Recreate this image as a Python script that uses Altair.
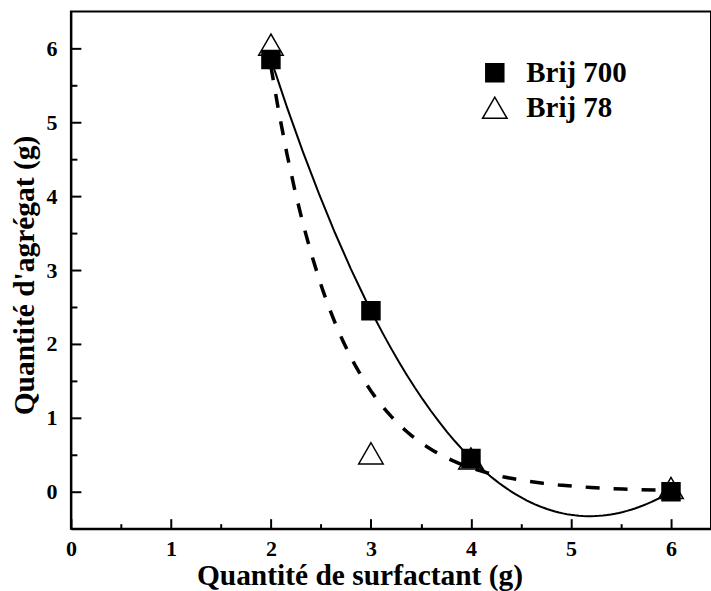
import altair as alt
import pandas as pd

# ---- data ----
surfactant = [2, 3, 4, 6]
brij700 = [5.85, 2.45, 0.45, 0.0]
brij78 = [6.05, 0.52, 0.45, 0.05]
series_names = ["Brij 700", "Brij 78"]
x_major = [0, 1, 2, 3, 4, 5, 6]
x_minor = [0.5, 1.5, 2.5, 3.5, 4.5, 5.5]
y_major = [0, 1, 2, 3, 4, 5, 6]
y_minor = [0.5, 1.5, 2.5, 3.5, 4.5, 5.5]

rows = []
for i, xv in enumerate(surfactant):
    rows.append({"x": xv, "y": brij700[i], "series": "Brij 700", "z": 2})
    rows.append({"x": xv, "y": brij78[i], "series": "Brij 78", "z": 1})
df = pd.DataFrame(rows)

FONT = "Liberation Serif"
xscale = alt.Scale(domain=[0, 6.4], nice=False, zero=False)
yscale = alt.Scale(domain=[-0.5, 6.5], nice=False, zero=False)


def leg():
    return alt.Legend(title=None, symbolStrokeWidth=1.5, symbolOpacity=1)


points = alt.Chart(df).mark_point(
    strokeWidth=1.5, opacity=1, fillOpacity=1
).encode(
    x=alt.X("x:Q", scale=xscale, axis=alt.Axis(
        values=x_major, title="Quantité de surfactant (g)", orient="bottom",
        tickSize=alt.ExprRef(expr="-10"), labelPadding=20, titlePadding=1,
        labelFlush=False, titleX=289, titleBaseline="alphabetic", titleY=56,
        format="d")),
    y=alt.Y("y:Q", scale=yscale, axis=alt.Axis(
        values=y_major, title="Quantité d'agrégat (g)", orient="left",
        tickSize=alt.ExprRef(expr="-10"), labelPadding=24, titlePadding=6,
        labelFlush=False, titleY=264, format="d")),
    shape=alt.Shape("series:N", scale=alt.Scale(domain=series_names, range=["square", "triangle-up"]),
                    legend=leg()),
    fill=alt.Fill("series:N", scale=alt.Scale(domain=series_names, range=["black", "white"]),
                  legend=leg()),
    stroke=alt.Stroke("series:N", scale=alt.Scale(domain=series_names, range=["black", "black"]),
                      legend=leg()),
    size=alt.Size("series:N", scale=alt.Scale(domain=series_names, range=[324, 600]),
                  legend=leg()),
    order=alt.Order("z:Q"),
)

solid = alt.Chart(df).transform_filter(
    alt.datum.series == "Brij 700"
).transform_regression("x", "y", method="poly", order=3).mark_line(
    color="black", strokeWidth=2
).encode(
    x=alt.X("x:Q", scale=xscale, axis=alt.Axis(
        values=x_minor, title=None, orient="bottom", labels=False, domain=False,
        tickSize=alt.ExprRef(expr="-5"))),
    y=alt.Y("y:Q", scale=yscale, axis=alt.Axis(
        values=y_minor, title=None, orient="left", labels=False, domain=False,
        tickSize=alt.ExprRef(expr="-6"))),
)

dashed = alt.Chart(df).transform_filter(
    alt.datum.series == "Brij 78"
).transform_regression("x", "y", method="exp").mark_line(
    color="black", strokeWidth=3.5, strokeDash=[14, 14]
).encode(
    x=alt.X("x:Q", scale=xscale, axis=None),
    y=alt.Y("y:Q", scale=yscale, axis=None),
)

chart = alt.layer(points, solid, dashed).resolve_axis(
    x="independent", y="independent"
).properties(
    width=641, height=518,
    autosize=alt.AutoSizeParams(type="none"),
    padding={"left": 71, "top": 11, "right": 0, "bottom": 62},
).configure(
    font=FONT,
).configure_view(
    stroke="black", strokeWidth=2
).configure_axis(
    domainColor="black", domainWidth=2, tickColor="black", tickWidth=2,
    labelFont=FONT, labelFontSize=22, labelFontWeight="bold", labelColor="black",
    titleFont=FONT, titleFontSize=29.5, titleFontWeight="bold", titleColor="black",
    grid=False,
).configure_legend(
    orient="none", legendX=410, legendY=47,
    labelFont=FONT, labelFontSize=29, labelFontWeight="bold", labelColor="black",
    symbolStrokeWidth=1.5, labelOffset=17,
    rowPadding=5, symbolOpacity=1,
)

chart.save("out.html", embed_options={"renderer": "svg", "actions": False})
